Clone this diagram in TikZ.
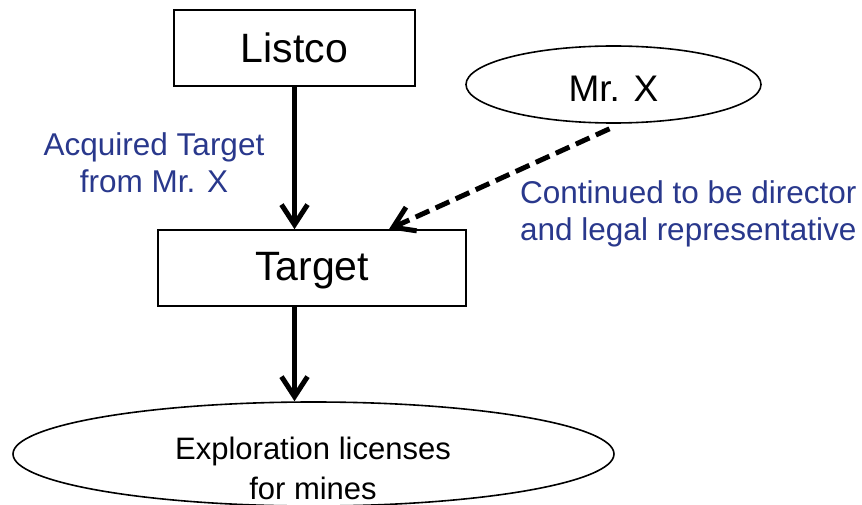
\documentclass[tikz,border=0pt]{standalone}
\usepackage{fontspec}
\setmainfont{Liberation Sans}
\usetikzlibrary{arrows.meta,shapes.geometric}
\definecolor{lblblue}{RGB}{41,56,140}
\begin{document}
\begin{tikzpicture}[x=1pt,y=-1pt,
  box/.style={draw=black,line width=1.6pt,rectangle,inner sep=0pt,font=\fontsize{41}{48}\selectfont},
  oval/.style={draw=black,line width=1.6pt,ellipse,inner sep=0pt},
  arr/.style={line width=5pt,-{Straight Barb[length=20pt,width=26pt]}},
  dasharr/.style={arr,dash pattern=on 15pt off 7pt},
  lbl/.style={text=lblblue,font=\fontsize{31.5}{37}\selectfont,inner sep=0pt}]
\useasboundingbox (0,0) rectangle (862,505);

\node[box,minimum width=241pt,minimum height=76pt] (listco) at (294.5,48) {Listco};
\node[box,minimum width=308pt,minimum height=76pt,text depth=3pt] (target) at (312,268) {Target};
\node[oval,minimum width=295pt,minimum height=77pt,font=\fontsize{37}{44}\selectfont,text height=34.5pt,text depth=0pt] (mrx) at (613.5,84.5) {Mr. X};
\node[oval,minimum width=601pt,minimum height=104pt] (expl) at (313.5,454) {};
\node[align=center,inner sep=0pt,font=\fontsize{31}{40}\selectfont] (expltext) at (313,468.5) {Exploration licenses\\for mines};

\node[lbl,align=center] (acq) at (154,162.5) {Acquired Target\\from Mr. X};
\node[lbl,align=left,anchor=west] (cont) at (520,214) {Continued to be director\\and legal representative};

\draw[arr] (listco.south) -- (listco.south |- target.north);
\draw[arr] (target.south -| listco.south) -- (expl.north -| listco.south);
\coordinate (dstart) at ([xshift=-4pt,yshift=-5pt]mrx.south);
\coordinate (dend) at ([xshift=77pt]target.north);
\draw[dasharr] (dstart) -- (dend);
\end{tikzpicture}
\end{document}
